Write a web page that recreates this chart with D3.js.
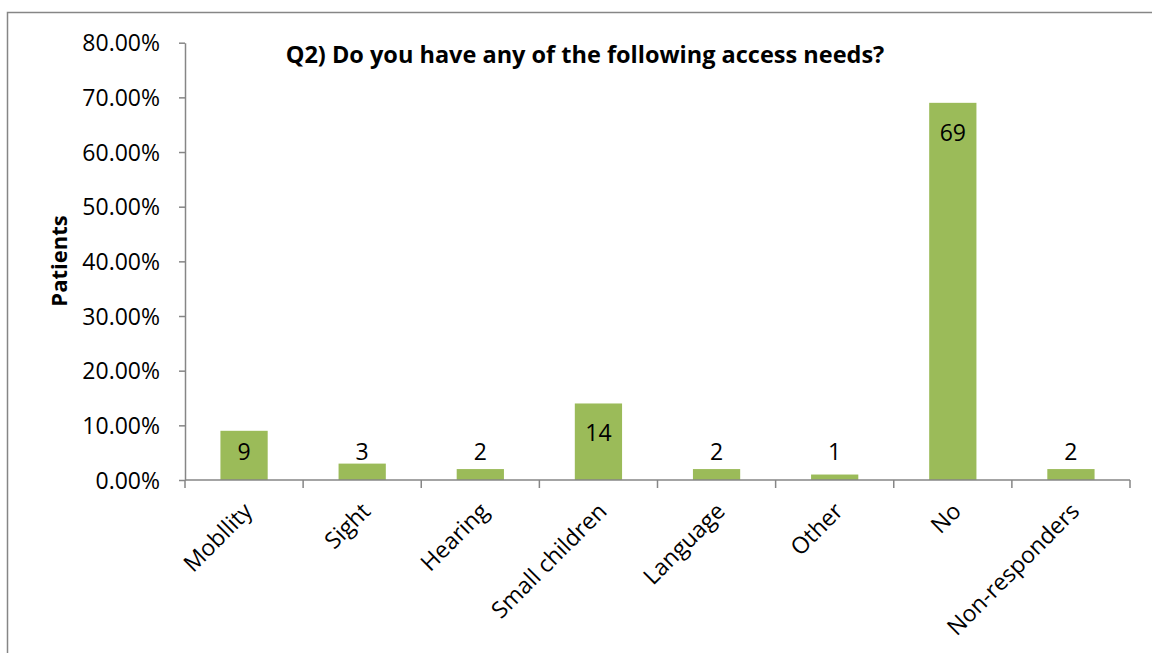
<!DOCTYPE html>
<html>
<head>
<meta charset="utf-8">
<script src="https://cdn.jsdelivr.net/npm/d3@7"></script>
<style>
  html, body { margin: 0; padding: 0; background: #fff; }
  svg { display: block; }
  text { font-family: "Open Sans", "Noto Sans", sans-serif; fill: #000; }
</style>
</head>
<body>
<svg id="chart" width="1152" height="653"></svg>
<script>
// Survey answers: number of patients per access need (also shown as the bar label)
const categories = ["Mobllity", "Sight", "Hearing", "Small children", "Language", "Other", "No", "Non-responders"];
const patients = [9, 3, 2, 14, 2, 1, 69, 2];
const yTicks = [0, 10, 20, 30, 40, 50, 60, 70, 80];
const titleText = "Q2) Do you have any of the following access needs?";
const yAxisTitle = "Patients";

const svg = d3.select("#chart");
const axisColor = "#868686";
const barColor = "#9BBB59";

// outer chart frame (runs past the right and bottom edges)
svg.append("rect")
  .attr("x", 7.5).attr("y", 12.5)
  .attr("width", 1200).attr("height", 700)
  .attr("fill", "none").attr("stroke", axisColor).attr("stroke-width", 1.5);

const plot = { left: 185, right: 1130, top: 42.7, bottom: 480 };

const x = d3.scaleBand()
  .domain(categories)
  .range([plot.left, plot.right])
  .paddingInner(0.6)
  .paddingOuter(0.3);

const y = d3.scaleLinear().domain([0, 80]).range([plot.bottom, plot.top]);

// bars
svg.append("g").selectAll("rect")
  .data(categories)
  .join("rect")
  .attr("x", d => x(d))
  .attr("width", x.bandwidth())
  .attr("y", (d, i) => y(patients[i]))
  .attr("height", (d, i) => y(0) - y(patients[i]))
  .attr("fill", barColor);

// y axis
const yAxis = svg.append("g")
  .attr("transform", `translate(${plot.left},0)`)
  .call(d3.axisLeft(y).tickValues(yTicks).tickSize(6).tickSizeOuter(0)
    .tickFormat(d => d.toFixed(2) + "%"));
yAxis.select(".domain").attr("stroke", axisColor).attr("stroke-width", 1.5);
yAxis.selectAll(".tick line").attr("stroke", axisColor).attr("stroke-width", 1.5);
yAxis.selectAll(".tick text")
  .attr("x", -25)
  .attr("dy", "0.35em")
  .style("font-size", "23px")
  .style("font-family", "'Open Sans', sans-serif")
  .attr("fill", "#000");

// x axis: ticks sit on the category boundaries
const boundaries = d3.range(categories.length + 1).map(i => plot.left + i * (plot.right - plot.left) / categories.length);
const xg = svg.append("g");
xg.append("line")
  .attr("x1", plot.left).attr("x2", plot.right)
  .attr("y1", y(0)).attr("y2", y(0))
  .attr("stroke", axisColor).attr("stroke-width", 1.5);
xg.selectAll("line.tick")
  .data(boundaries)
  .join("line")
  .attr("class", "tick")
  .attr("x1", d => d).attr("x2", d => d)
  .attr("y1", y(0)).attr("y2", y(0) + 8)
  .attr("stroke", axisColor).attr("stroke-width", 1.5);

// rotated category labels
xg.selectAll("text")
  .data(categories)
  .join("text")
  .attr("transform", d => `translate(${x(d) + x.bandwidth() / 2 + 4},${y(0) + 27}) rotate(-45)`)
  .attr("text-anchor", "end")
  .attr("dy", "0.35em")
  .style("font-size", "23px")
  .text(d => d);

// value labels: near the top inside tall bars, kept just above the axis for short ones
svg.append("g").selectAll("text")
  .data(categories)
  .join("text")
  .attr("x", d => x(d) + x.bandwidth() / 2)
  .attr("y", (d, i) => Math.min(y(patients[i]) + 38, y(0) - 20))
  .attr("text-anchor", "middle")
  .style("font-size", "23px")
  .text((d, i) => patients[i]);

// chart title
svg.append("text")
  .attr("x", 585).attr("y", 63)
  .attr("text-anchor", "middle")
  .style("font-size", "23.5px")
  .style("font-weight", "bold")
  .text(titleText);

// y axis title
svg.append("text")
  .attr("transform", `translate(67,261) rotate(-90)`)
  .attr("text-anchor", "middle")
  .style("font-size", "22px")
  .style("font-weight", "bold")
  .text(yAxisTitle);
</script>
</body>
</html>
